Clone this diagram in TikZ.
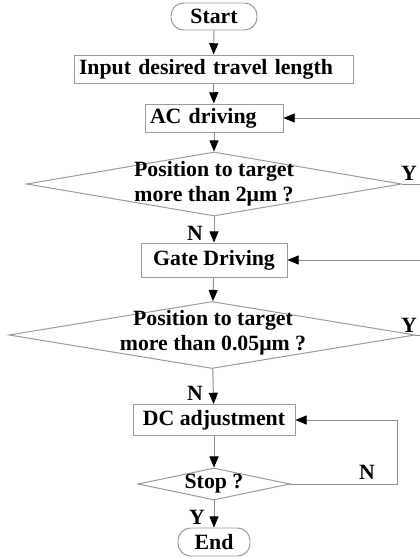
\documentclass[tikz,border=0pt]{standalone}
\usepackage{fontspec}
\setmainfont{Liberation Serif}
\usetikzlibrary{arrows.meta,shapes.geometric}
\newlength\px \setlength\px{0.025cm}

\begin{document}
\begin{tikzpicture}[x=0.025cm,y=-0.025cm,font=\fontsize{15.5}{18}\selectfont\bfseries,
  box/.style={draw=black!40,line width=0.7pt,inner sep=0pt},
  term/.style={box,rounded corners=9pt},
  dec/.style={box,diamond},
  flow/.style={draw=black!45,line width=0.7pt,-{Triangle[length=8pt,width=6.5pt,color=black]}},
  lbl/.style={inner sep=0pt}]
\useasboundingbox (0,0) rectangle (420,558);
\node[term,minimum width=86*\px,minimum height=27*\px] (start) at (214,16.5) {Start};
\node[box,minimum width=279*\px,minimum height=28*\px,text width=269*\px,align=left] (input) at (213.5,69) {Input desired travel length};
\node[box,minimum width=138*\px,minimum height=28*\px,text width=128*\px,align=left] (ac) at (214,118) {AC driving};
\node[dec,minimum width=375*\px,minimum height=64*\px] (d1) at (214,184) {};
\node[lbl,align=center] (d1t) at (214,184) {Position to target\\more than 2μm ?};
\node[box,minimum width=146*\px,minimum height=34*\px] (gate) at (214,260) {Gate Driving};
\node[dec,minimum width=406*\px,minimum height=67*\px] (d2) at (212,335) {};
\node[lbl,align=center] (d2t) at (213,333) {Position to target\\more than 0.05μm ?};
\node[box,minimum width=162*\px,minimum height=31*\px] (dc) at (214,420) {DC adjustment};
\node[dec,minimum width=152*\px,minimum height=32*\px] (stop) at (214,484) {};
\node[lbl] (stopt) at (214,484) {Stop ?};
\node[term,minimum width=72*\px,minimum height=28*\px] (end) at (214,542) {End};
\coordinate (rx) at (425,0);\coordinate (lp) at (397,0);
\draw[flow] (start)--(input);\draw[flow] (input)--(ac);\draw[flow] (ac)--(d1);
\draw[flow] (d1)--(gate);\draw[flow] (gate)--(d2);\draw[flow] (d2)--(dc);
\draw[flow] (dc)--(stop);\draw[flow] (stop)--(end);
\draw[flow] (d1.east)--(d1.east -| rx) |- (ac.east);
\draw[flow] (d2.east)--(d2.east -| rx) |- (gate.east);
\draw[flow] (stop.east) -| (lp |- dc.east)--(dc.east);
\node[lbl] (y1) at (409,173) {Y};\node[lbl] (y2) at (409,325) {Y};
\node[lbl] (n1) at (195,233) {N};\node[lbl] (n2) at (195,393) {N};
\node[lbl] (n3) at (367,472) {N};\node[lbl] (y3) at (197,517) {Y};
\end{tikzpicture}
\end{document}
